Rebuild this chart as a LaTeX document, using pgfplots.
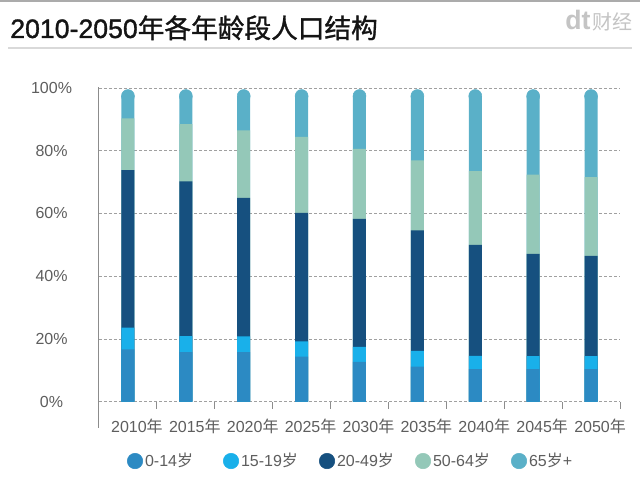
\documentclass[border=0pt]{standalone}
\usepackage{fontspec}
\usepackage{pgfplots}
\pgfplotsset{compat=1.18}
\usepackage{pgfplotstable}
\setmainfont{Liberation Sans}
\newfontfamily\cjk{Noto Sans CJK SC}
\newfontfamily\titlelat[FakeBold=1.2]{Liberation Sans}
\newfontfamily\titlecjk[FakeBold=1.2]{Noto Sans CJK SC}
\definecolor{cA}{HTML}{2C8AC3}
\definecolor{cB}{HTML}{19B0EA}
\definecolor{cC}{HTML}{16507F}
\definecolor{cD}{HTML}{94C8B8}
\definecolor{cE}{HTML}{5AB0C8}
\definecolor{labC}{HTML}{5E5E5E}
\definecolor{gridC}{HTML}{A0A0A0}
\definecolor{axC}{HTML}{8C8C8C}
\definecolor{logoC}{HTML}{C4C4C4}
\newcommand{\nian}{{\cjk 年}}
\newcommand{\sui}{{\cjk 岁}}
% cumulative top of each age group (percent)
\pgfplotstableread{
x  a     b     c     d     e
0  16.7  23.6  73.8  90.3  99.5
1  15.8  20.9  70.2  88.5  99.5
2  15.8  20.8  65.0  86.5  99.5
3  14.4  19.2  60.2  84.4  99.5
4  12.7  17.5  58.3  80.6  99.5
5  11.2  16.2  54.6  76.9  99.5
6  10.4  14.6  50.0  73.5  99.5
7  10.4  14.5  47.1  72.4  99.5
8  10.4  14.5  46.5  71.6  99.5
}\datatable
\begin{document}
\begin{tikzpicture}
\fill[white] (0,0) rectangle (480pt,372.75pt);
\useasboundingbox (0,0) rectangle (480pt,372.75pt);
\fill[black!33] (0,371.25pt) rectangle (480pt,372.75pt);
\draw[line width=1.2pt, black!15] (6pt,336.75pt) -- (474pt,336.75pt);
\node[anchor=base west, inner sep=0pt, text=black!92, font=\fontsize{20}{24}\selectfont] at (7.5pt,344.25pt) {\titlelat 2010-2050{\titlecjk 年各年龄段人口结构}};
\node[anchor=base west, inner sep=0pt, text=logoC] at (423.75pt,350.25pt) {{\fontsize{20}{22}\selectfont\bfseries dt}\hspace{1.5pt}{\fontsize{15}{17}\selectfont\cjk 财经}};
\begin{axis}[
  at={(74.25pt,71.475pt)}, anchor=south west,
  scale only axis, width=390.75pt, height=235.3pt,
  xmin=-0.5, xmax=8.5, ymin=0, ymax=100,
  ybar, bar width=9.75pt, bar shift=0pt,
  axis line style={draw=none},
  xtick={0,...,8},
  xticklabels={2010\nian,2015\nian,2020\nian,2025\nian,2030\nian,2035\nian,2040\nian,2045\nian,2050\nian},
  minor xtick={0.5,1.5,...,8.5},
  ytick={0,20,...,100},
  yticklabels={0\%,20\%,40\%,60\%,80\%,100\%},
  major tick length=0pt, minor tick length=5.25pt,
  tick align=outside, xtick pos=left, ytick pos=left,
  minor tick style={draw=axC, line width=0.6pt},
  ymajorgrids,
  major grid style={draw=gridC, dash pattern=on 2.25pt off 1.5pt, line width=0.6pt},
  ticklabel style={text=labC, font=\fontsize{12}{14}\selectfont},
  yticklabel style={anchor=center, xshift=-35.6pt},
  xticklabel style={anchor=center, xshift=6.75pt, yshift=-18.2pt},
  clip=false,
  legend columns=5,
  legend style={at={(0.0533,0)}, anchor=west, yshift=-44.5pt, draw=none, fill=none, inner sep=0pt,
    nodes={inner sep=1.5pt}, cells={anchor=west}, font=\fontsize{12}{14}\selectfont, text=labC,
    /tikz/every even column/.append style={column sep=0pt}},
]
\addlegendimage{legend image code/.code={\fill[cA] (0pt,0pt) circle (5.8pt);}}
\addlegendentry{\makebox[57pt][l]{0-14\sui}}
\addlegendimage{legend image code/.code={\fill[cB] (0pt,0pt) circle (5.8pt);}}
\addlegendentry{\makebox[57pt][l]{15-19\sui}}
\addlegendimage{legend image code/.code={\fill[cC] (0pt,0pt) circle (5.8pt);}}
\addlegendentry{\makebox[57pt][l]{20-49\sui}}
\addlegendimage{legend image code/.code={\fill[cD] (0pt,0pt) circle (5.8pt);}}
\addlegendentry{\makebox[57pt][l]{50-64\sui}}
\addlegendimage{legend image code/.code={\fill[cE] (0pt,0pt) circle (5.8pt);}}
\addlegendentry{\makebox[57pt][l]{65\sui+}}
% 65+ segment: straight part up to the centre of its rounded cap, then the cap
\addplot[forget plot, fill=cE, draw=none] table[x=x, y expr=\thisrow{e}-2.07] {\datatable};
\addplot[forget plot, color=cE, sharp plot, only marks, mark=*, mark size=4.85pt, mark options={fill=cE, draw=none}] table[x=x, y expr=\thisrow{e}-2.07] {\datatable};
\addplot[forget plot, fill=cD, draw=none] table[x=x, y=d] {\datatable};
\addplot[forget plot, fill=cC, draw=none] table[x=x, y=c] {\datatable};
\addplot[forget plot, fill=cB, draw=none] table[x=x, y=b] {\datatable};
\addplot[forget plot, fill=cA, draw=none] table[x=x, y=a] {\datatable};
\draw[axC, line width=0.75pt] ([yshift=-19.7pt]rel axis cs:0,0) -- ([yshift=0.75pt]rel axis cs:0,1);
\end{axis}
\end{tikzpicture}
\end{document}
